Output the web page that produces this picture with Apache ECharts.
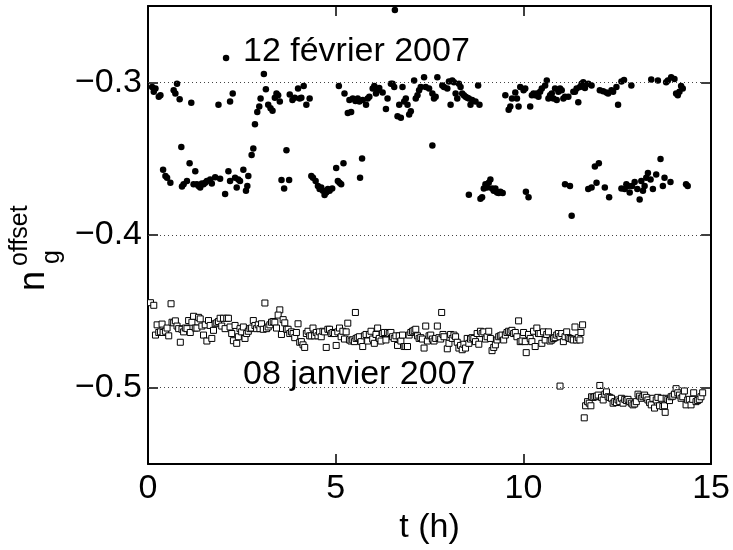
<!DOCTYPE html>
<html>
<head>
<meta charset="utf-8">
<script src="https://cdn.jsdelivr.net/npm/echarts@6/dist/echarts.min.js"></script>
<style>html,body{margin:0;padding:0;background:#fff}#c{width:733px;height:550px}</style>
</head>
<body>
<div id="c"></div>
<script>
// 12 février 2007 (filled dots)
const febT = [0.110,0.199,0.154,0.287,0.331,0.684,0.773,0.729,0.843,1.153,1.877,2.186,2.257,2.849,2.911,2.964,2.999,3.087,3.140,3.202,3.264,3.317,3.379,3.423,3.467,3.511,3.776,3.847,3.909,3.997,4.041,4.085,4.147,4.218,4.306,5.084,5.234,5.322,5.411,5.366,5.455,5.525,5.587,5.632,5.720,5.808,5.852,5.896,5.985,6.029,6.073,6.117,6.161,6.250,6.338,6.382,6.471,6.515,6.559,6.647,6.736,6.692,6.780,6.824,6.868,6.913,6.957,7.001,7.089,7.133,7.178,7.222,7.266,7.354,7.398,7.487,7.575,7.619,7.663,7.708,
  7.575,6.577,2.080,
  0.888,0.402,0.464,0.508,0.596,0.905,0.949,1.038,1.108,1.259,1.214,1.303,1.347,1.391,1.435,1.479,1.524,1.568,1.656,1.700,1.789,1.921,2.054,2.142,2.186,2.319,2.363,2.407,2.451,2.540,2.610,2.646,2.672,2.760,2.805,3.556,3.626,3.688,3.759,4.351,4.395,4.465,4.527,4.571,4.615,4.660,4.704,4.748,4.792,4.837,4.907,5.013,5.057,5.101,5.146,5.207,5.649,5.702,
  7.840,7.885,7.973,8.017,8.061,8.105,8.150,8.194,8.238,8.282,8.326,8.370,8.415,8.459,8.503,8.547,8.591,8.635,8.724,8.794,8.830,9.519,9.607,9.651,9.696,9.784,9.828,9.872,9.916,10.005,10.049,10.181,10.226,10.270,10.314,10.358,10.402,10.446,10.491,10.579,10.623,10.667,10.711,10.756,10.800,10.844,10.888,10.932,10.976,11.021,11.065,11.109,11.197,11.330,11.374,11.418,11.462,11.506,11.551,11.595,11.639,11.727,11.816,12.036,12.125,12.213,12.257,12.346,12.390,12.478,12.522,12.611,12.681,12.876,13.406,13.583,13.803,13.848,13.936,14.024,14.068,14.113,14.157,14.201,14.245,
  8.547,8.856,8.900,8.945,8.989,9.033,9.077,9.121,9.165,9.210,9.254,9.298,9.342,9.386,9.448,10.067,10.137,11.109,11.241,11.286,11.727,11.816,11.904,11.948,12.010,12.169,12.284,12.611,12.699,12.743,12.787,12.832,12.893,12.964,13.035,13.097,13.141,13.185,13.229,13.273,13.317,13.388,13.450,13.538,13.653,13.715,13.759,13.918,14.333,14.377];
const febY = [-0.3031,-0.3041,-0.3062,-0.3094,-0.3084,-0.3052,-0.3009,-0.3073,-0.3111,-0.3133,-0.3147,-0.3126,-0.3073,-0.3275,-0.3194,-0.3158,-0.3105,-0.2946,-0.3045,-0.3147,-0.3169,-0.3186,-0.3101,-0.3073,-0.3084,-0.3126,-0.3079,-0.3116,-0.3101,-0.3041,-0.3105,-0.3101,-0.3024,-0.3147,-0.3105,-0.3024,-0.3073,-0.3200,-0.3194,-0.3116,-0.3105,-0.3122,-0.3105,-0.3126,-0.3116,-0.3147,-0.3105,-0.3094,-0.3041,-0.3024,-0.3073,-0.3052,-0.3037,-0.3067,-0.3175,-0.3105,-0.3009,-0.3009,-0.3031,-0.3222,-0.3232,-0.3147,-0.3031,-0.3126,-0.3105,-0.3147,-0.3211,-0.3190,-0.2988,-0.3105,-0.3084,-0.3052,-0.3031,-0.2967,-0.3031,-0.3041,-0.3073,-0.3105,-0.3094,-0.2967,
  -0.3413,-0.2527,-0.2840,
  -0.3423,-0.3572,-0.3614,-0.3625,-0.3657,-0.3682,-0.3668,-0.3646,-0.3530,-0.3583,-0.3668,-0.3668,-0.3678,-0.3689,-0.3663,-0.3668,-0.3657,-0.3646,-0.3636,-0.3663,-0.3621,-0.3631,-0.3731,-0.3583,-0.3646,-0.3625,-0.3689,-0.3636,-0.3646,-0.3572,-0.3710,-0.3678,-0.3614,-0.3476,-0.3434,-0.3640,-0.3695,-0.3445,-0.3640,-0.3614,-0.3625,-0.3646,-0.3678,-0.3699,-0.3689,-0.3710,-0.3738,-0.3721,-0.3699,-0.3710,-0.3695,-0.3561,-0.3646,-0.3657,-0.3668,-0.3530,-0.3625,-0.3498,
  -0.3020,-0.3031,-0.3041,-0.2995,-0.3147,-0.2988,-0.2999,-0.3073,-0.3105,-0.3009,-0.3031,-0.3073,-0.3084,-0.3094,-0.3101,-0.3105,-0.3147,-0.3116,-0.3126,-0.3020,-0.3147,-0.3084,-0.3179,-0.3158,-0.3105,-0.3067,-0.3105,-0.3158,-0.3031,-0.3052,-0.3041,-0.3158,-0.3084,-0.3073,-0.3084,-0.3073,-0.3094,-0.3062,-0.3041,-0.3020,-0.2988,-0.3105,-0.3084,-0.3073,-0.3105,-0.3041,-0.3116,-0.3062,-0.3041,-0.3052,-0.3105,-0.3094,-0.3094,-0.3062,-0.3062,-0.3041,-0.3130,-0.3031,-0.3009,-0.2999,-0.3037,-0.3009,-0.3020,-0.3052,-0.3058,-0.3067,-0.3073,-0.3052,-0.3062,-0.3031,-0.3147,-0.2995,-0.2984,-0.3020,-0.2982,-0.2988,-0.2999,-0.2988,-0.2967,-0.2978,-0.3073,-0.3084,-0.3062,-0.3024,-0.3041,
  -0.3736,-0.3763,-0.3753,-0.3695,-0.3668,-0.3689,-0.3657,-0.3636,-0.3695,-0.3710,-0.3695,-0.3721,-0.3725,-0.3716,-0.3725,-0.3716,-0.3753,-0.3668,-0.3678,-0.3874,-0.3699,-0.3689,-0.3551,-0.3657,-0.3530,-0.3689,-0.3753,-0.3695,-0.3699,-0.3668,-0.3678,-0.3721,-0.3678,-0.3653,-0.3699,-0.3767,-0.3646,-0.3710,-0.3678,-0.3625,-0.3593,-0.3636,-0.3699,-0.3604,-0.3502,-0.3678,-0.3625,-0.3653,-0.3668,-0.3678];

// 08 janvier 2007 (open squares)
const janT = [0.066,0.154,0.614,3.114,3.511,5.525,
  0.199,0.243,0.287,0.331,0.375,0.402,0.464,0.508,0.552,0.640,0.684,0.729,0.773,0.817,0.861,0.905,0.949,0.994,1.038,1.082,1.126,1.170,1.214,1.259,1.303,1.347,1.391,1.435,1.479,1.524,1.568,1.612,1.656,1.700,1.745,1.789,1.833,1.877,1.921,1.965,2.010,2.054,2.098,2.142,2.186,2.230,2.275,2.319,2.363,2.407,2.451,2.495,2.540,2.584,2.628,2.672,2.716,2.760,2.805,2.849,2.893,2.937,2.981,3.025,3.070,3.158,3.202,3.246,3.290,3.335,3.379,3.423,3.467,3.555,3.600,3.644,3.688,3.732,3.776,3.820,3.865,3.909,3.953,3.997,4.041,4.085,4.130,4.174,4.218,4.262,4.306,4.350,4.395,4.439,4.483,4.527,4.571,4.615,4.660,4.704,4.748,4.792,4.836,4.880,4.925,4.969,5.013,5.057,5.101,5.145,5.190,5.234,5.278,5.322,5.366,5.410,5.455,5.499,5.543,5.587,5.631,5.676,5.720,5.764,5.808,5.852,5.896,5.941,5.985,6.029,6.073,6.117,6.161,6.206,6.250,6.294,6.338,6.382,6.426,6.471,6.515,6.559,6.603,6.647,6.692,6.736,6.780,6.824,6.868,6.913,6.957,7.001,7.045,7.089,7.133,7.178,7.222,7.266,7.310,7.354,7.398,7.443,7.487,7.531,7.575,7.619,7.663,7.708,
  7.752,7.796,7.823,7.858,7.885,7.973,8.017,8.061,8.105,8.150,8.194,8.238,8.282,8.326,8.370,8.415,8.459,8.503,8.547,8.591,8.635,8.680,8.724,8.768,8.812,8.856,8.900,8.945,8.989,9.033,9.077,9.121,9.165,9.210,9.254,9.298,9.342,9.386,9.430,9.475,9.519,9.563,9.607,9.651,9.696,9.740,9.784,9.828,9.872,9.916,9.961,10.005,10.049,10.075,10.137,10.181,10.226,10.270,10.314,10.358,10.402,10.446,10.491,10.535,10.579,10.623,10.667,10.711,10.756,10.800,10.844,10.888,10.932,10.976,11.021,11.065,11.109,11.153,11.197,11.241,11.286,11.330,11.374,11.418,11.462,11.506,11.533,11.577,
  10.976,
  11.621,11.657,11.710,11.754,11.798,11.816,11.860,11.904,11.948,11.992,12.036,12.081,12.125,12.169,12.213,12.257,12.301,12.346,12.390,12.434,12.478,12.522,12.566,12.611,12.655,12.699,12.743,12.787,12.832,12.876,12.920,12.964,13.008,13.053,13.097,13.141,13.185,13.229,13.273,13.317,13.362,13.406,13.450,13.494,13.538,13.582,13.627,13.671,13.715,13.759,13.777,13.803,13.848,13.892,13.936,13.980,14.024,14.068,14.113,14.157,14.201,14.245,14.289,14.333,14.377,14.421,14.466,14.510,14.536,14.598,14.642,14.686,14.731,14.775];
const janY = [-0.4443,-0.4460,-0.4450,-0.4445,-0.4490,-0.4507,
  -0.4655,-0.4588,-0.4638,-0.4634,-0.4583,-0.4638,-0.4630,-0.4609,-0.4660,-0.4571,-0.4575,-0.4562,-0.4596,-0.4613,-0.4702,-0.4617,-0.4634,-0.4609,-0.4613,-0.4560,-0.4638,-0.4571,-0.4532,-0.4609,-0.4609,-0.4539,-0.4549,-0.4596,-0.4655,-0.4588,-0.4694,-0.4560,-0.4592,-0.4677,-0.4624,-0.4581,-0.4575,-0.4566,-0.4545,-0.4596,-0.4545,-0.4613,-0.4545,-0.4545,-0.4602,-0.4645,-0.4692,-0.4592,-0.4709,-0.4666,-0.4613,-0.4634,-0.4602,-0.4677,-0.4645,-0.4630,-0.4613,-0.4609,-0.4560,-0.4592,-0.4613,-0.4588,-0.4613,-0.4581,-0.4617,-0.4613,-0.4602,-0.4588,-0.4571,-0.4566,-0.4571,-0.4609,-0.4524,-0.4651,-0.4554,-0.4575,-0.4617,-0.4617,-0.4645,-0.4634,-0.4645,-0.4672,-0.4638,-0.4581,-0.4702,-0.4698,-0.4719,-0.4736,-0.4645,-0.4630,-0.4660,-0.4660,-0.4609,-0.4660,-0.4638,-0.4660,-0.4634,-0.4666,-0.4630,-0.4634,-0.4736,-0.4617,-0.4617,-0.4645,-0.4638,-0.4645,-0.4723,-0.4634,-0.4609,-0.4666,-0.4630,-0.4681,-0.4634,-0.4577,-0.4687,-0.4694,-0.4687,-0.4698,-0.4677,-0.4672,-0.4666,-0.4698,-0.4730,-0.4660,-0.4651,-0.4694,-0.4651,-0.4630,-0.4681,-0.4709,-0.4651,-0.4609,-0.4677,-0.4694,-0.4645,-0.4638,-0.4687,-0.4638,-0.4645,-0.4638,-0.4666,-0.4677,-0.4660,-0.4723,-0.4660,-0.4694,-0.4655,-0.4730,-0.4730,-0.4730,-0.4655,-0.4638,-0.4630,-0.4624,-0.4617,-0.4660,-0.4677,-0.4672,-0.4681,-0.4740,-0.4596,-0.4694,-0.4660,-0.4655,-0.4681,-0.4694,-0.4677,-0.4596,
  -0.4672,-0.4681,-0.4507,-0.4651,-0.4666,-0.4745,-0.4709,-0.4651,-0.4677,-0.4655,-0.4666,-0.4702,-0.4740,-0.4723,-0.4751,-0.4715,-0.4740,-0.4677,-0.4709,-0.4681,-0.4672,-0.4677,-0.4698,-0.4645,-0.4715,-0.4630,-0.4645,-0.4634,-0.4681,-0.4666,-0.4630,-0.4677,-0.4757,-0.4736,-0.4719,-0.4687,-0.4666,-0.4660,-0.4655,-0.4687,-0.4655,-0.4638,-0.4630,-0.4634,-0.4624,-0.4645,-0.4638,-0.4666,-0.4562,-0.4698,-0.4694,-0.4638,-0.4698,-0.4770,-0.4651,-0.4677,-0.4698,-0.4630,-0.4730,-0.4609,-0.4645,-0.4645,-0.4709,-0.4634,-0.4687,-0.4651,-0.4634,-0.4694,-0.4687,-0.4677,-0.4672,-0.4655,-0.4645,-0.4666,-0.4645,-0.4698,-0.4666,-0.4634,-0.4672,-0.4677,-0.4681,-0.4687,-0.4602,-0.4687,-0.4672,-0.4687,-0.4638,-0.4588,
  -0.4989,
  -0.5197,-0.5118,-0.5091,-0.5101,-0.5118,-0.5059,-0.5063,-0.5059,-0.5055,-0.5048,-0.4985,-0.5063,-0.5080,-0.5042,-0.5027,-0.5059,-0.5063,-0.5069,-0.5101,-0.5091,-0.5097,-0.5080,-0.5091,-0.5069,-0.5101,-0.5076,-0.5084,-0.5076,-0.5091,-0.5101,-0.5112,-0.5106,-0.5091,-0.5042,-0.5055,-0.5069,-0.5059,-0.5048,-0.5063,-0.5080,-0.5097,-0.5112,-0.5069,-0.5133,-0.5080,-0.5063,-0.5118,-0.5069,-0.5123,-0.5118,-0.5161,-0.5069,-0.5076,-0.5084,-0.5059,-0.5055,-0.5042,-0.5006,-0.5033,-0.5048,-0.5069,-0.5059,-0.5021,-0.5112,-0.5080,-0.5076,-0.5112,-0.5076,-0.5033,-0.5091,-0.5084,-0.5076,-0.5059,-0.5033];

const xTickValues = [0, 5, 10, 15];
const yTickValues = [-0.5, -0.4, -0.3];
const yTickLabels = ['\u22120.5', '\u22120.4', '\u22120.3'];
const labelFeb = '12 f\u00e9vrier 2007';
const labelJan = '08 janvier 2007';
const xName = 't (h)';

const FONT = '"Liberation Sans", Arial, Helvetica, sans-serif';
const zip = (a, b) => a.map((v, i) => [v, b[i]]);
const yLab = v => {
  const i = yTickValues.findIndex(t => Math.abs(t - v) < 1e-9);
  return i >= 0 ? yTickLabels[i] : '';
};

const chart = echarts.init(document.getElementById('c'), null, {renderer: 'canvas'});
const frameLine = {show: true, onZero: false, lineStyle: {color: '#000', width: 2}};
const tickStyle = {color: '#000', width: 1.5};
chart.setOption({
  animation: false,
  backgroundColor: '#fff',
  grid: {left: 148, right: 19, top: 6, bottom: 75, containLabel: false},
  xAxis: [{
    type: 'value', min: 0, max: 15, interval: 5, position: 'bottom',
    axisLine: frameLine,
    axisTick: {show: true, inside: true, length: 10, lineStyle: tickStyle},
    axisLabel: {show: true, margin: 8, fontSize: 34, fontFamily: FONT, color: '#000',
      customValues: xTickValues, showMinLabel: true, showMaxLabel: true},
    splitLine: {show: false},
    name: xName, nameLocation: 'middle', nameGap: 36,
    nameTextStyle: {fontSize: 34, fontFamily: FONT, color: '#000'}
  }, {
    type: 'value', min: 0, max: 15, interval: 5, position: 'top',
    axisLine: frameLine,
    axisTick: {show: true, inside: true, length: 10, lineStyle: tickStyle},
    axisLabel: {show: false}, splitLine: {show: false}
  }],
  yAxis: [{
    type: 'value', min: -0.55, max: -0.25, position: 'left',
    axisLine: frameLine,
    axisTick: {show: true, inside: true, length: 10, customValues: yTickValues, lineStyle: tickStyle},
    axisLabel: {show: true, margin: 6, fontSize: 34, fontFamily: FONT, color: '#000',
      customValues: yTickValues, formatter: yLab},
    splitLine: {show: false}
  }, {
    type: 'value', min: -0.55, max: -0.25, position: 'right',
    axisLine: frameLine,
    axisTick: {show: true, inside: true, length: 10, customValues: yTickValues, lineStyle: tickStyle},
    axisLabel: {show: false}, splitLine: {show: false}
  }],
  series: [{
    type: 'line', data: [], z: 1, silent: true,
    markLine: {
      silent: true, symbol: 'none', label: {show: false},
      lineStyle: {color: '#444', type: [1, 3], width: 1, opacity: 1},
      data: yTickValues.map(v => ({yAxis: v}))
    }
  }, {
    type: 'scatter', name: labelJan, z: 3,
    data: zip(janT, janY), symbol: 'rect', symbolSize: 6,
    itemStyle: {color: '#fff', borderColor: '#000', borderWidth: 1, opacity: 1}
  }, {
    type: 'scatter', name: labelFeb, z: 4,
    data: zip(febT, febY), symbol: 'circle', symbolSize: 6.5,
    itemStyle: {color: '#000', opacity: 1}
  }],
  graphic: [
    {type: 'text', left: 243, top: 35, z: 10,
      style: {text: labelFeb, fontSize: 34, fontFamily: FONT, fill: '#000'}},
    {type: 'text', left: 243, top: 358, z: 10,
      style: {text: labelJan, fontSize: 34, fontFamily: FONT, fill: '#000'}},
    {type: 'group', x: 34, y: 291, rotation: Math.PI / 2, z: 10, children: [
      {type: 'text', x: 0, y: 0, style: {text: 'n', fontSize: 36, fontFamily: FONT, fill: '#000', verticalAlign: 'middle', align: 'left'}},
      {type: 'text', x: 25, y: -14, style: {text: 'offset', fontSize: 25, fontFamily: FONT, fill: '#000', verticalAlign: 'middle', align: 'left'}},
      {type: 'text', x: 27, y: 18, style: {text: 'g', fontSize: 25, fontFamily: FONT, fill: '#000', verticalAlign: 'middle', align: 'left'}}
    ]}
  ]
});
</script>
</body>
</html>
